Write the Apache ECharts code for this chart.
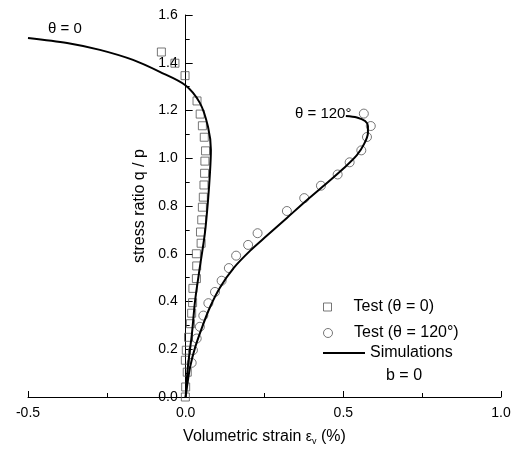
<!DOCTYPE html>
<html>
<head>
<meta charset="utf-8">
<script src="https://cdn.jsdelivr.net/npm/echarts@6/dist/echarts.min.js"></script>
<style>
  html, body { margin: 0; padding: 0; background: #fff; }
  #chart { width: 522px; height: 452px; }
</style>
</head>
<body>
<div id="chart"></div>
<script>
  // test data, theta = 0 (squares) [strain %, q/p]
  const test0 = [
    [-0.077, 1.445], [-0.034, 1.398], [-0.002, 1.346], [0.036, 1.240], [0.046, 1.185],
    [0.053, 1.136], [0.059, 1.088], [0.063, 1.031], [0.061, 0.988], [0.060, 0.937],
    [0.058, 0.888], [0.056, 0.837], [0.053, 0.795], [0.051, 0.742], [0.047, 0.691],
    [0.049, 0.644], [0.034, 0.600], [0.035, 0.549], [0.034, 0.496], [0.023, 0.455],
    [0.022, 0.395], [0.019, 0.351], [0.015, 0.307], [0.009, 0.250], [0.002, 0.196],
    [-0.001, 0.154], [0.005, 0.104], [0.000, 0.042], [-0.001, 0.000]
  ]
  // test data, theta = 120 (circles)
  const test120 = [
    [0.019, 0.143], [0.023, 0.196], [0.035, 0.245], [0.045, 0.294], [0.056, 0.341],
    [0.072, 0.393], [0.093, 0.440], [0.114, 0.487], [0.137, 0.540], [0.160, 0.592],
    [0.198, 0.637], [0.228, 0.686], [0.321, 0.779], [0.376, 0.833], [0.429, 0.885],
    [0.482, 0.932], [0.520, 0.983], [0.557, 1.033], [0.575, 1.089], [0.587, 1.135],
    [0.565, 1.187]
  ]
  // simulation curves
  const sim0 = [
    [-0.5, 1.504], [-0.376, 1.483], [-0.272, 1.454], [-0.167, 1.412], [-0.082, 1.362],
    [-0.002, 1.307], [0.045, 1.232], [0.071, 1.131], [0.080, 1.035], [0.077, 0.938],
    [0.071, 0.825], [0.061, 0.686], [0.045, 0.544], [0.030, 0.405], [0.020, 0.267],
    [0.007, 0.125], [0, 0]
  ]
  const sim120 = [
    [0, 0], [0.004, 0.041], [0.014, 0.125], [0.030, 0.208], [0.052, 0.292],
    [0.077, 0.376], [0.109, 0.459], [0.152, 0.540], [0.204, 0.612], [0.258, 0.676],
    [0.321, 0.750], [0.384, 0.824], [0.448, 0.896], [0.502, 0.959], [0.543, 1.013],
    [0.566, 1.060], [0.578, 1.106], [0.578, 1.135], [0.569, 1.156], [0.543, 1.171],
    [0.508, 1.177]
  ]
  const legendNames = ['Test (θ = 0)', 'Test (θ = 120°)', 'Simulations']

  const font = '"Liberation Sans", Arial, sans-serif'
  const chart = echarts.init(document.getElementById('chart'))

  // grid box; the y axis sits at x = 0 of the strain axis
  const gridLeft = 28, gridRight = 21
  const xMin = -0.5, xMax = 1.0
  const plotW = 522 - gridLeft - gridRight
  const yAxisShift = plotW * (0 - xMin) / (xMax - xMin)

  const markerStyle = { color: 'rgba(255,255,255,0)', borderColor: '#555', borderWidth: 1 }
  const legendBase = {
    orient: 'vertical', left: 323, padding: 0, itemWidth: 42,
    symbolKeepAspect: true, selectedMode: false,
    textStyle: { fontSize: 16, color: '#000', fontFamily: font }
  }

  chart.setOption({
    animation: false,
    textStyle: { fontFamily: font },
    grid: { left: gridLeft, right: gridRight, top: 15, bottom: 55, containLabel: false, outerBoundsMode: 'none' },
    legend: [
      Object.assign({}, legendBase, { top: 299, itemHeight: 8, itemStyle: { borderWidth: 1 },
        data: [{ name: legendNames[0], icon: 'path://M0,0H10V10H0Z' }] }),
      Object.assign({}, legendBase, { top: 325, itemHeight: 9, itemStyle: { borderWidth: 1 },
        data: [{ name: legendNames[1], icon: 'circle' }] }),
      Object.assign({}, legendBase, { top: 345, itemHeight: 2,
        itemStyle: { color: '#000', borderWidth: 0 },
        data: [{ name: legendNames[2], icon: 'rect' }] })
    ],
    xAxis: {
      type: 'value', min: xMin, max: xMax, interval: 0.5,
      name: 'Volumetric strain {e|ε}{v|v} (%)',
      nameLocation: 'middle', nameGap: 31,
      nameTextStyle: {
        fontSize: 16, color: '#000',
        rich: { e: { fontSize: 14, color: '#000' }, v: { fontSize: 9, color: '#000', padding: [9, 0, 0, 0] } }
      },
      axisLine: { onZero: false, lineStyle: { color: '#000', width: 1 } },
      axisTick: { inside: true, length: 6, lineStyle: { color: '#000' } },
      minorTick: { show: true, splitNumber: 2, length: 4, lineStyle: { color: '#000' } },
      axisLabel: { fontSize: 14, color: '#000', margin: 9, formatter: v => v.toFixed(1) },
      splitLine: { show: false }
    },
    yAxis: {
      type: 'value', min: 0, max: 1.6, interval: 0.2,
      position: 'left', offset: -yAxisShift,
      name: 'stress ratio q / p',
      nameLocation: 'middle', nameGap: 37,
      nameTextStyle: { fontSize: 16, color: '#000' },
      axisLine: { onZero: false, lineStyle: { color: '#000', width: 1 } },
      axisTick: { inside: true, length: 7, lineStyle: { color: '#000' } },
      minorTick: { show: true, splitNumber: 2, length: 4, lineStyle: { color: '#000' } },
      axisLabel: { fontSize: 14, color: '#000', margin: 8, formatter: v => v.toFixed(1) },
      splitLine: { show: false }
    },
    series: [
      {
        name: legendNames[0], type: 'scatter', data: test0,
        symbol: 'rect', symbolSize: 8, itemStyle: markerStyle, z: 2
      },
      {
        name: legendNames[1], type: 'scatter', data: test120,
        symbol: 'circle', symbolSize: 9, itemStyle: markerStyle, z: 2
      },
      {
        name: legendNames[2], type: 'line', data: sim0, symbol: 'none', smooth: 0.3,
        lineStyle: { color: '#000', width: 2 }, itemStyle: { color: '#000' }, z: 3
      },
      {
        name: legendNames[2], type: 'line', data: sim120, symbol: 'none', smooth: 0.3,
        lineStyle: { color: '#000', width: 2 }, itemStyle: { color: '#000' }, z: 3
      }
    ],
    graphic: [
      { type: 'text', left: 48, top: 21, style: { text: 'θ = 0', fontSize: 15, fill: '#000', fontFamily: font } },
      { type: 'text', left: 295, top: 106, style: { text: 'θ = 120°', fontSize: 15, fill: '#000', fontFamily: font } },
      { type: 'text', left: 386, top: 368, style: { text: 'b = 0', fontSize: 16, fill: '#000', fontFamily: font } }
    ]
  })
</script>
</body>
</html>
